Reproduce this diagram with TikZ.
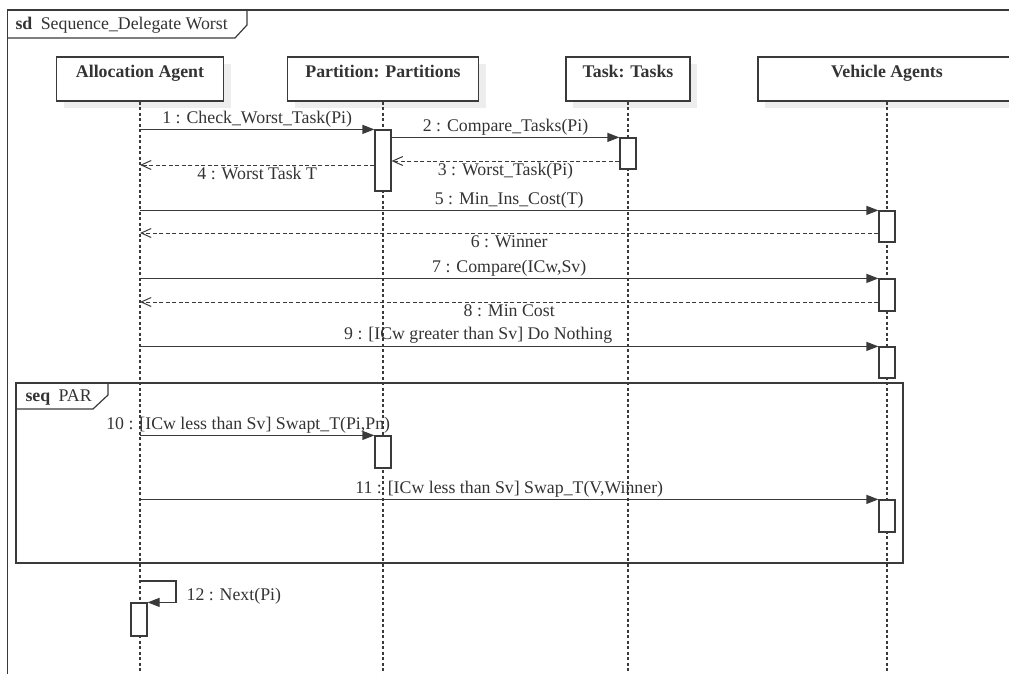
\documentclass[tikz,border=0pt]{standalone}
\usepackage{fontspec}
\setmainfont{Liberation Serif}
\usepackage{tikz}
\usetikzlibrary{calc,positioning,arrows.meta,shadows}

\definecolor{linegray}{HTML}{3A3A3A}
\definecolor{textgray}{HTML}{333333}
\definecolor{shadegray}{HTML}{EDEDED}
\newcommand{\diagfont}{\fontsize{17.8}{21}\selectfont}

\begin{document}
\begin{tikzpicture}[x=1pt,y=-1pt,
  every node/.style={text=textgray,font=\diagfont},
  head/.style={draw=linegray,line width=1.4pt,fill=white,minimum height=44pt,inner sep=0pt,
    text height=13pt,text depth=16pt,font=\diagfont\bfseries,
    drop shadow={shadow xshift=7pt,shadow yshift=-7pt,fill=shadegray,opacity=1}},
  act/.style={draw=linegray,line width=1.2pt,fill=white,minimum width=16pt,inner sep=0pt},
  life/.style={draw=linegray,line width=1.2pt,dash pattern=on 3pt off 2.5pt},
  msg/.style={draw=linegray,line width=1.2pt,-{Triangle[length=12pt,width=9pt]}},
  ret/.style={draw=linegray,line width=1pt,dash pattern=on 4pt off 2.5pt,-{Straight Barb[length=10pt,width=9pt]}},
  lbl/.style={inner sep=2pt},
  frm/.style={draw=linegray,line width=1.2pt}]
\useasboundingbox (0,0) rectangle (1009,674);
\clip (0,0) rectangle (1009,674);
\coordinate (bot) at (0,674);

% lifeline heads
\node[head,minimum width=167pt] (alloc) at (140,79) {Allocation Agent};
\node[head,minimum width=191pt] (part) at (383,79) {Partition: Partitions};
\node[head,minimum width=124pt] (task) at (628,79) {Task: Tasks};
\node[head,minimum width=258pt] (veh) at (887,79) {Vehicle Agents};
\foreach \l in {alloc,part,task,veh}
  \draw[life] (\l.south) -- (\l |- bot);

% outer frame
\draw[linegray,line width=1pt] (7,10) -- (7,674);
\draw[linegray,line width=2pt] (7,10) -- (1012,10);
\draw[frm] (247,10) -- (247,25) -- (235,38) -- (7,38);
\node[anchor=base west] (sdlbl) at (12,30) {\textbf{sd}\hspace{4pt} Sequence\_Delegate Worst};

% activations
\node[act,minimum height=61pt] (p1) at (383,160.5) {};
\node[act,minimum height=31pt] (t1) at (628,153.5) {};
\node[act,minimum height=31pt] (v1) at (887,226.5) {};
\node[act,minimum height=32pt] (v2) at (887,295) {};
\node[act,minimum height=31pt] (v3) at (887,362.5) {};
\node[act,minimum height=32pt] (p2) at (383,452) {};
\node[act,minimum height=32pt] (v4) at (887,516) {};
\node[act,minimum height=33pt] (a12) at (139,619.5) {};

\coordinate (m3) at (628,161);
\coordinate (m4) at (140,165);
\coordinate (m6) at (140,233);
\coordinate (m8) at (140,302);
\coordinate (c12) at (140,581);

% messages
\draw[msg] (alloc |- p1.north) -- node[lbl,above] {1 : Check\_Worst\_Task(Pi)} (p1.north west);
\draw[msg] (p1.east |- t1.north) -- node[lbl,above] {2 : Compare\_Tasks(Pi)} (t1.north west);
\draw[ret] (t1.west |- m3) -- node[lbl,below] {3 : Worst\_Task(Pi)} (p1.east |- m3);
\draw[ret] (p1.west |- m4) -- node[lbl,below] {4 : Worst Task T} (m4);
\draw[msg] (alloc |- v1.north) -- node[lbl,above] {5 : Min\_Ins\_Cost(T)} (v1.north west);
\draw[ret] (v1.west |- m6) -- node[lbl,below] {6 : Winner} (m6);
\draw[msg] (alloc |- v2.north) -- node[lbl,above] {7 : Compare(ICw,Sv)} (v2.north west);
\draw[ret] (v2.west |- m8) -- node[lbl,below] {8 : Min Cost} (m8);
\draw[msg] (alloc |- v3.north) -- node[lbl,above,xshift=-31pt] {9 : [ICw greater than Sv] Do Nothing} (v3.north west);

% seq fragment
\draw[frm] (16,383) rectangle (903,563);
\draw[frm] (16,409) -- (93,409) -- (108,395) -- (108,383);
\node[anchor=base west] (seqlbl) at (22,401) {\textbf{seq}\hspace{4pt} PAR};
\draw[msg] (alloc |- p2.north) -- node[lbl,above,xshift=-9pt] {10 : [ICw less than Sv] Swapt\_T(Pi,Pn)} (p2.north west);
\draw[msg] (alloc |- v4.north) -- node[lbl,above] {11 : [ICw less than Sv] Swap\_T(V,Winner)} (v4.north west);

% self call
\draw[msg] (c12) -- ++(36,0) |- node[lbl,right=8pt,pos=0.25,yshift=-5pt] {12 : Next(Pi)} (a12.north east);
\end{tikzpicture}
\end{document}
